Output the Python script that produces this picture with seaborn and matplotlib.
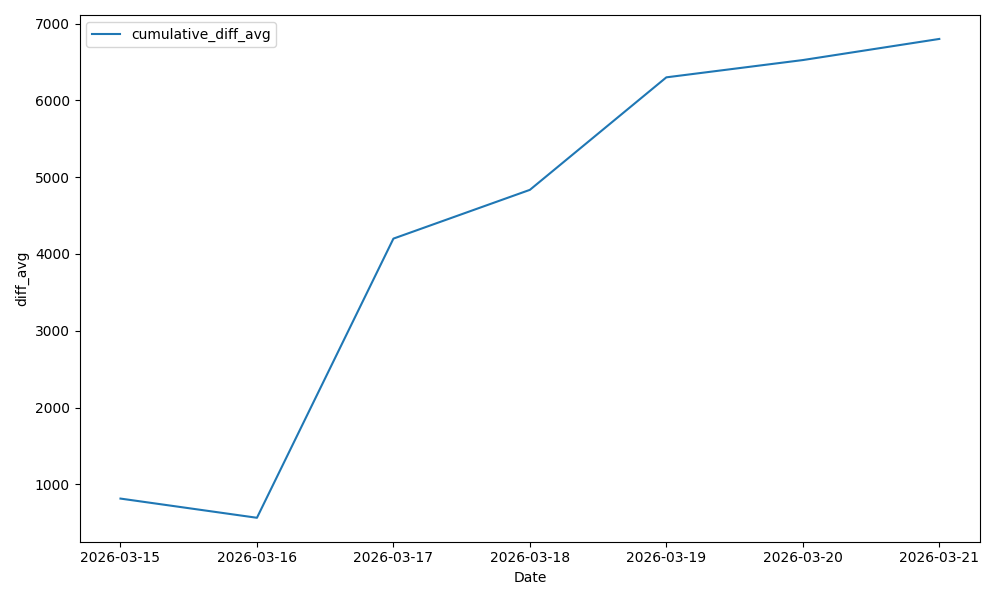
import seaborn as sns
import matplotlib.pyplot as plt
import pandas as pd

dates = ["2026-03-15", "2026-03-16", "2026-03-17", "2026-03-18",
         "2026-03-19", "2026-03-20", "2026-03-21"]
cumulative_diff_avg = [815, 565, 4200, 4835, 6300, 6525, 6800]

df = pd.DataFrame({"Date": pd.to_datetime(dates),
                   "cumulative_diff_avg": cumulative_diff_avg})

fig, ax = plt.subplots(figsize=(10, 6))
sns.lineplot(data=df, x="Date", y="cumulative_diff_avg",
             label="cumulative_diff_avg", ax=ax)
ax.set_xticks(df["Date"])
ax.set_xticklabels(dates)
ax.set_xlabel("Date")
ax.set_ylabel("diff_avg")
ax.legend(loc="upper left")

plt.tight_layout()
plt.savefig("out.png", dpi=100)
